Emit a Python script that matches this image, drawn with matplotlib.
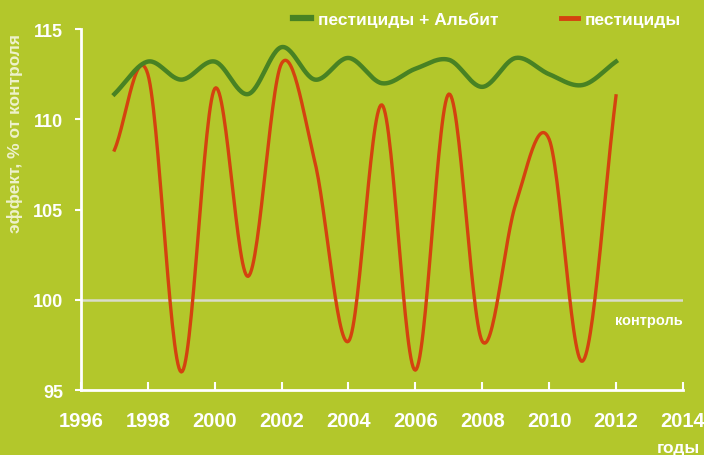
import numpy as np
import matplotlib.pyplot as plt
from matplotlib.lines import Line2D

plt.rcParams['font.family'] = ['Liberation Sans Narrow', 'Liberation Sans', 'DejaVu Sans']
plt.rcParams['font.weight'] = 'bold'

# data
years = [1997, 1998, 1999, 2000, 2001, 2002, 2003, 2004,
         2005, 2006, 2007, 2008, 2009, 2010, 2011, 2012]
albit = [111.4, 113.2, 112.2, 113.2, 111.4, 114.0, 112.2, 113.4,
         112.0, 112.8, 113.3, 111.8, 113.4, 112.5, 111.9, 113.2]
pest = [108.3, 112.5, 96.0, 111.7, 101.3, 113.1, 107.6, 97.7,
        110.8, 96.1, 111.4, 97.7, 105.3, 108.9, 96.6, 111.3]
control = 100
xticks = [1996, 1998, 2000, 2002, 2004, 2006, 2008, 2010, 2012, 2014]
yticks = [95, 100, 105, 110, 115]

bg = '#b3c72b'
green = '#488223'
red = '#d4420f'


def smooth(x, y, n=30):
    # Catmull-Rom curve through the points (like Excel "smoothed line")
    x = np.asarray(x, float)
    y = np.asarray(y, float)
    px = np.concatenate([[2 * x[0] - x[1]], x, [2 * x[-1] - x[-2]]])
    py = np.concatenate([[2 * y[0] - y[1]], y, [2 * y[-1] - y[-2]]])
    xs, ys = [], []
    t = np.linspace(0, 1, n, endpoint=False)
    for i in range(1, len(px) - 2):
        for p, out in ((px, xs), (py, ys)):
            p0, p1, p2, p3 = p[i - 1], p[i], p[i + 1], p[i + 2]
            out.extend(0.5 * (2 * p1 + (-p0 + p2) * t
                              + (2 * p0 - 5 * p1 + 4 * p2 - p3) * t ** 2
                              + (-p0 + 3 * p1 - 3 * p2 + p3) * t ** 3))
    xs.append(x[-1])
    ys.append(y[-1])
    return np.array(xs), np.array(ys)


fig = plt.figure(figsize=(7.04, 4.56), dpi=100, facecolor=bg)
ax = fig.add_axes([0.115, 0.1425, 0.855, 0.7915], facecolor=bg)

ax.axhline(control, color='#d9dccb', lw=1.8, zorder=1)
sx, sy = smooth(years, albit)
ax.plot(sx, sy, color=green, lw=3.2, zorder=3)
sx, sy = smooth(years, pest)
ax.plot(sx, sy, color=red, lw=2.4, zorder=2)

ax.set_xlim(1996, 2014)
ax.set_ylim(95, 115)
ax.set_xticks(xticks)
ax.set_yticks(yticks)
for s in ['top', 'right']:
    ax.spines[s].set_visible(False)
for s in ['left', 'bottom']:
    ax.spines[s].set_color('white')
    ax.spines[s].set_linewidth(2)
ax.tick_params(axis='x', direction='in', length=6, width=1.5, colors='white',
               labelsize=14.5, pad=15)
ax.tick_params(axis='y', direction='out', length=4, width=1.5, colors='white',
               labelsize=13, pad=9)

ax.text(2014, 98.9, 'контроль', color='white', fontsize=10.5,
        ha='right', va='center')
fig.text(0.995, 0.0, 'годы', color='white', fontsize=12.5, ha='right', va='bottom')
fig.text(0.022, 0.708, 'эффект, % от контроля', color='#eef2cc', fontsize=12.5,
         rotation=90, ha='center', va='center')

handles = [Line2D([], [], color=green, lw=4.5), Line2D([], [], color=red, lw=3.5)]
leg = fig.legend(handles, ['пестициды + Альбит', 'пестициды'], ncol=2,
                 loc='center right', bbox_to_anchor=(0.99, 0.956), frameon=False,
                 handlelength=1.0, handletextpad=0.4, columnspacing=3.6,
                 fontsize=12.5)
for t in leg.get_texts():
    t.set_color('white')

fig.savefig('out.png', dpi=100, facecolor=bg)
